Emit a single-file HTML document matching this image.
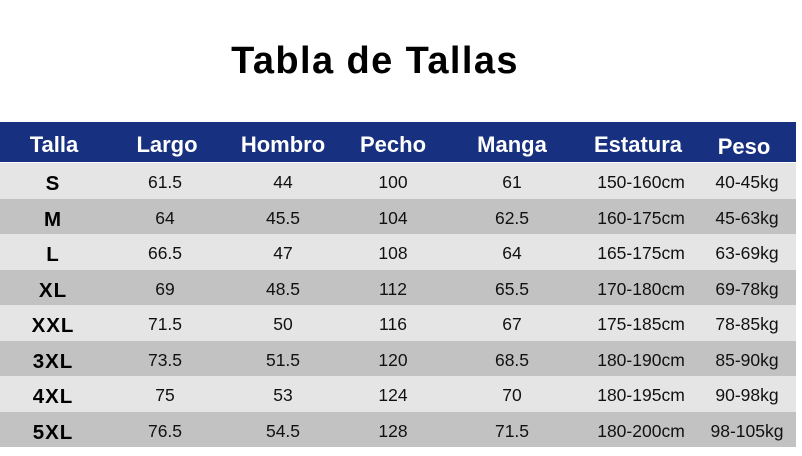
<!DOCTYPE html>
<html><head><meta charset="utf-8"><style>
*{margin:0;padding:0;box-sizing:border-box}
body{width:802px;height:456px;background:#fff;position:relative;overflow:hidden;font-family:"Liberation Sans",Arial,sans-serif}
.title{position:absolute;left:0;width:750px;top:35px;text-align:center;font-size:38px;font-weight:bold;letter-spacing:1.4px;color:#000;line-height:52px}
.hdr{position:absolute;left:0;top:122px;width:796px;height:40px;background:#17307f}
.h{position:absolute;top:0;width:140px;text-align:center;color:#fff;font-weight:bold;font-size:22px;line-height:40px;padding-top:3px;height:40px}
.row{position:absolute;left:0;width:796px;height:35.5px}
.l{background:#e5e5e5}
.d{background:#c2c2c2}
.c{position:absolute;top:0;width:140px;text-align:center;font-size:17.5px;color:#111;line-height:35.5px;height:35.5px;padding-top:2px}
.s{font-weight:bold;font-size:20.5px;letter-spacing:1px;padding-top:3px;color:#000}
</style></head><body>
<div class="title">Tabla de Tallas</div>
<div class="hdr">
<div class="h" style="left:-16px">Talla</div>
<div class="h" style="left:97px">Largo</div>
<div class="h" style="left:213px">Hombro</div>
<div class="h" style="left:323px">Pecho</div>
<div class="h" style="left:442px">Manga</div>
<div class="h" style="left:568px">Estatura</div>
<div class="h" style="left:674px;padding-top:5px">Peso</div>
</div>

<div class="row l" style="top:163px">
<div class="c s" style="left:-17px">S</div><div class="c" style="left:95px">61.5</div><div class="c" style="left:213px">44</div><div class="c" style="left:323px">100</div><div class="c" style="left:442px">61</div><div class="c" style="left:571px">150-160cm</div><div class="c" style="left:677px">40-45kg</div>
</div>
<div class="row d" style="top:198.5px">
<div class="c s" style="left:-17px">M</div><div class="c" style="left:95px">64</div><div class="c" style="left:213px">45.5</div><div class="c" style="left:323px">104</div><div class="c" style="left:442px">62.5</div><div class="c" style="left:571px">160-175cm</div><div class="c" style="left:677px">45-63kg</div>
</div>
<div class="row l" style="top:234px">
<div class="c s" style="left:-17px">L</div><div class="c" style="left:95px">66.5</div><div class="c" style="left:213px">47</div><div class="c" style="left:323px">108</div><div class="c" style="left:442px">64</div><div class="c" style="left:571px">165-175cm</div><div class="c" style="left:677px">63-69kg</div>
</div>
<div class="row d" style="top:269.5px">
<div class="c s" style="left:-17px">XL</div><div class="c" style="left:95px">69</div><div class="c" style="left:213px">48.5</div><div class="c" style="left:323px">112</div><div class="c" style="left:442px">65.5</div><div class="c" style="left:571px">170-180cm</div><div class="c" style="left:677px">69-78kg</div>
</div>
<div class="row l" style="top:305px">
<div class="c s" style="left:-17px">XXL</div><div class="c" style="left:95px">71.5</div><div class="c" style="left:213px">50</div><div class="c" style="left:323px">116</div><div class="c" style="left:442px">67</div><div class="c" style="left:571px">175-185cm</div><div class="c" style="left:677px">78-85kg</div>
</div>
<div class="row d" style="top:340.5px">
<div class="c s" style="left:-17px">3XL</div><div class="c" style="left:95px">73.5</div><div class="c" style="left:213px">51.5</div><div class="c" style="left:323px">120</div><div class="c" style="left:442px">68.5</div><div class="c" style="left:571px">180-190cm</div><div class="c" style="left:677px">85-90kg</div>
</div>
<div class="row l" style="top:376px">
<div class="c s" style="left:-17px">4XL</div><div class="c" style="left:95px">75</div><div class="c" style="left:213px">53</div><div class="c" style="left:323px">124</div><div class="c" style="left:442px">70</div><div class="c" style="left:571px">180-195cm</div><div class="c" style="left:677px">90-98kg</div>
</div>
<div class="row d" style="top:411.5px">
<div class="c s" style="left:-17px">5XL</div><div class="c" style="left:95px">76.5</div><div class="c" style="left:213px">54.5</div><div class="c" style="left:323px">128</div><div class="c" style="left:442px">71.5</div><div class="c" style="left:571px">180-200cm</div><div class="c" style="left:677px">98-105kg</div>
</div>
</body></html>
